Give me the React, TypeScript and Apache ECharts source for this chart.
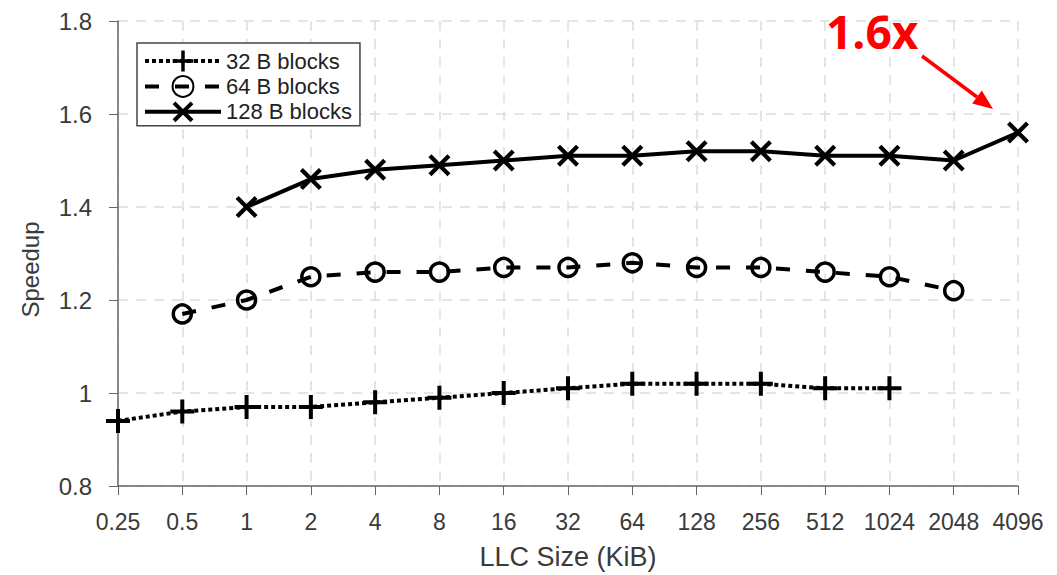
import React, { useEffect, useRef } from "react";
import * as echarts from "echarts";

const categories = ["0.25", "0.5", "1", "2", "4", "8", "16", "32", "64", "128", "256", "512", "1024", "2048", "4096"];
const blocks32 = [0.94, 0.96, 0.97, 0.97, 0.98, 0.99, 1.0, 1.01, 1.02, 1.02, 1.02, 1.01, 1.01, null, null];
const blocks64 = [null, 1.17, 1.2, 1.25, 1.26, 1.26, 1.27, 1.27, 1.28, 1.27, 1.27, 1.26, 1.25, 1.22, null];
const blocks128 = [null, null, 1.4, 1.46, 1.48, 1.49, 1.5, 1.51, 1.51, 1.52, 1.52, 1.51, 1.51, 1.5, 1.56];
const seriesNames = ["32 B blocks", "64 B blocks", "128 B blocks"];
const annotationText = "1.6x";

const PLUS = "path://M10,0H14V10H24V14H14V24H10V14H0V10H10Z";
const CROSS = "path://M0,3L3,0L11,8L19,0L22,3L14,11L22,19L19,22L11,14L3,22L0,19L8,11Z";

const FONT = "Liberation Sans";
const TEXT_COLOR = "#3a3a3a";

export default function App() {
  const ref = useRef<HTMLDivElement>(null);
  useEffect(() => {
    if (!ref.current) return;
    const chart = echarts.init(ref.current, undefined, { renderer: "svg" });
    const tip = [993, 109];
    const dir = [0.8, 0.6];
    const hl = 20, hw = 8;
    const base = [tip[0] - hl * dir[0], tip[1] - hl * dir[1]];
    const perp = [-dir[1], dir[0]];
    chart.setOption({
      animation: false,
      backgroundColor: "#fff",
      textStyle: { fontFamily: FONT },
      grid: { left: 118, right: 39, top: 21, bottom: 86, containLabel: false },
      legend: {
        orient: "vertical",
        left: 137,
        top: 43,
        itemWidth: 76,
        itemHeight: 26,
        itemGap: 3,
        padding: [7, 8, 3, 6],
        borderColor: "#444",
        borderWidth: 1.5,
        borderRadius: 0,
        backgroundColor: "#fff",
        lineStyle: { width: 4 },
        textStyle: { fontSize: 22, color: "#222", fontFamily: FONT },
        data: seriesNames,
      },
      xAxis: {
        type: "category",
        data: categories,
        boundaryGap: false,
        name: "LLC Size (KiB)",
        nameLocation: "middle",
        nameGap: 57,
        nameTextStyle: { fontSize: 27, color: TEXT_COLOR, fontFamily: FONT },
        axisLine: { lineStyle: { color: "#666", width: 1.5 } },
        axisTick: { show: true, interval: 0, length: 9, lineStyle: { color: "#666" } },
        axisLabel: { interval: 0, hideOverlap: false, fontSize: 23, color: TEXT_COLOR, margin: 24, fontFamily: FONT },
        splitLine: { show: true, interval: 0, lineStyle: { color: "#ddd", type: [10, 8], width: 1.5 } },
      },
      yAxis: {
        type: "value",
        min: 0.8,
        max: 1.8,
        interval: 0.2,
        name: "Speedup",
        nameLocation: "middle",
        nameGap: 76,
        nameTextStyle: { fontSize: 24, color: TEXT_COLOR, fontFamily: FONT, padding: [0, 32, 0, 0] },
        axisLine: { show: true, lineStyle: { color: "#666", width: 1.5 } },
        axisTick: { show: true, length: 9, lineStyle: { color: "#666" } },
        axisLabel: {
          fontSize: 24,
          color: TEXT_COLOR,
          margin: 26,
          fontFamily: FONT,
          formatter: (v: number) => String(Math.round(v * 10) / 10),
        },
        splitLine: { show: true, lineStyle: { color: "#ddd", type: [10, 8], width: 1.5 } },
      },
      series: [
        {
          name: seriesNames[0],
          type: "line",
          data: blocks32,
          symbol: PLUS,
          symbolSize: 24,
          showAllSymbol: true,
          itemStyle: { color: "#000" },
          lineStyle: { color: "#000", width: 4, type: [4, 3] },
          z: 3,
        },
        {
          name: seriesNames[1],
          type: "line",
          data: blocks64,
          symbol: "circle",
          symbolSize: 18,
          showAllSymbol: true,
          itemStyle: { color: "rgba(255,255,255,0)", borderColor: "#000", borderWidth: 3.5 },
          lineStyle: { color: "#000", width: 4, type: [14, 16] },
          z: 3,
        },
        {
          name: seriesNames[2],
          type: "line",
          data: blocks128,
          symbol: CROSS,
          symbolSize: 22,
          showAllSymbol: true,
          itemStyle: { color: "#000" },
          lineStyle: { color: "#000", width: 4 },
          z: 3,
        },
      ],
      graphic: [
        {
          type: "text",
          x: 826,
          y: 31,
          style: {
            text: annotationText,
            fill: "#ff0000",
            font: `bold 46px 'Open Sans'`,
            verticalAlign: "middle",
            align: "left",
          },
          z: 10,
        },
        {
          type: "line",
          shape: { x1: 922, y1: 56, x2: base[0], y2: base[1] },
          style: { stroke: "#ff0000", lineWidth: 3.5 },
          z: 10,
        },
        {
          type: "polygon",
          shape: {
            points: [
              tip,
              [base[0] + perp[0] * hw, base[1] + perp[1] * hw],
              [base[0] - perp[0] * hw, base[1] - perp[1] * hw],
            ],
          },
          style: { fill: "#ff0000" },
          z: 10,
        },
      ],
    });
    return () => chart.dispose();
  }, []);
  return <div ref={ref} style={{ position: "absolute", left: 0, top: 0, width: 1057, height: 575 }} />;
}
